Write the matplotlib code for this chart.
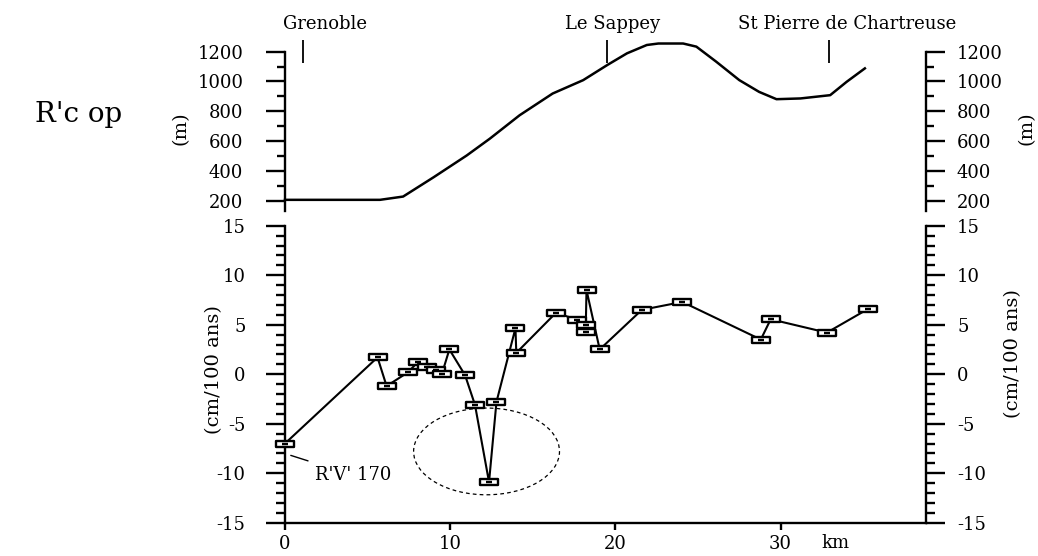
import matplotlib
matplotlib.use("Agg")
import matplotlib.pyplot as plt
from matplotlib.path import Path
from matplotlib.patches import Ellipse
from matplotlib.ticker import MultipleLocator, FixedLocator

# elevation profile along the levelling line
prof_km = [0, 5.75, 7.15, 9.0, 11.0, 12.4, 14.2, 16.2, 18.05, 19.5, 20.7, 21.9,
           22.6, 24.1, 24.9, 26.1, 27.5, 28.7, 29.75, 31.2, 33.0, 34.0, 35.1]
prof_m = [205, 205, 227, 357, 503, 616, 773, 919, 1009, 1110, 1189, 1245,
          1255, 1255, 1234, 1133, 1009, 930, 881, 886, 908, 998, 1088]

# vertical velocity of benchmarks
rate_km = [0, 5.6, 6.15, 7.45, 8.05, 8.6, 9.15, 9.5, 9.95, 10.9, 11.5, 12.35, 12.8,
           13.95, 14.0, 16.4, 17.7, 18.2, 18.2, 18.25, 19.05, 21.6, 24.05, 28.8,
           29.4, 32.8, 35.3]
rate_cm = [-7.0, 1.7, -1.2, 0.2, 1.25, 0.7, 0.45, 0.05, 2.5, -0.1, -3.1, -10.9, -2.8,
           4.65, 2.15, 6.2, 5.5, 5.0, 4.3, 8.5, 2.5, 6.5, 7.3, 3.5,
           5.55, 4.2, 6.6]

towns = ["Grenoble", "Le Sappey", "St Pierre de Chartreuse"]
town_km = [1.1, 19.5, 32.9]
town_label_km = [2.4, 19.8, 34.0]

plt.rcParams['font.family'] = ['DejaVu Serif']
plt.rcParams['axes.unicode_minus'] = False
FS = 13

fig = plt.figure(figsize=(10.38, 5.56), dpi=100)
W, H = 1038, 556
x0, x1 = 285, 926
ax_top = fig.add_axes([x0 / W, 1 - 211 / H, (x1 - x0) / W, (211 - 51.7) / H])
ax_bot = fig.add_axes([x0 / W, 1 - 522.7 / H, (x1 - x0) / W, (522.7 - 225.7) / H])
xmax = 38.8

# ---- top panel: topography
ax_top.plot(prof_km, prof_m, color='black', lw=1.8, clip_on=False,
            solid_joinstyle='round')
ax_top.set_xlim(0, xmax)
ax_top.set_ylim(130, 1200)
ax_top.vlines(town_km, 1124, 1279, color='black', lw=1.3, clip_on=False)
for name, k in zip(towns, town_label_km):
    ax_top.text(k, 1383, name, ha='center', va='center', fontsize=13,
                clip_on=False)

axr_top = ax_top.twinx()
axr_top.set_ylim(130, 1200)
for a, side in ((ax_top, 'left'), (axr_top, 'right')):
    for s in ('top', 'bottom', 'left', 'right'):
        a.spines[s].set_visible(s == side)
    a.spines[side].set_linewidth(1.7)
    a.yaxis.set_major_locator(FixedLocator([200, 400, 600, 800, 1000, 1200]))
    a.yaxis.set_minor_locator(MultipleLocator(100))
    a.tick_params(axis='y', which='major', length=14, width=1.7, labelsize=FS,
                  pad=16 if side == 'left' else 8)
    a.tick_params(axis='y', which='minor', length=6, width=1.7)
    a.set_xticks([])
    a.patch.set_visible(False)

# ---- bottom panel: vertical rates
verts = [(-1, -0.38), (1, -0.38), (1, 0.38), (-1, 0.38), (-1, -0.38), (-0.35, 0), (0.35, 0)]
codes = [Path.MOVETO, Path.LINETO, Path.LINETO, Path.LINETO, Path.CLOSEPOLY,
         Path.MOVETO, Path.LINETO]
bench = Path(verts, codes)

ax_bot.plot(rate_km, rate_cm, color='black', lw=1.5, marker=bench, markersize=13,
            markerfacecolor='white', markeredgecolor='black', markeredgewidth=1.7,
            clip_on=False, zorder=3)
ax_bot.set_xlim(0, xmax)
ax_bot.set_ylim(-15, 15)

ax_bot.add_patch(Ellipse((12.2, -7.8), 8.83, 8.76, fill=False, ls=(0, (3, 2.5)),
                         lw=0.9, color='black'))
ax_bot.annotate("R'V' 170", xy=(0.35, -8.2), xytext=(1.8, -10.2), fontsize=13,
                va='center', ha='left',
                arrowprops=dict(arrowstyle='-', color='black', lw=1.0,
                                shrinkA=6, shrinkB=0))

axr_bot = ax_bot.twinx()
axr_bot.set_ylim(-15, 15)
for a, side in ((ax_bot, 'left'), (axr_bot, 'right')):
    for s in ('top', 'left', 'right'):
        a.spines[s].set_visible(s == side)
    a.spines['bottom'].set_visible(side == 'left')
    for s in ('bottom', side):
        a.spines[s].set_linewidth(1.7)
    a.yaxis.set_major_locator(MultipleLocator(5))
    a.yaxis.set_minor_locator(MultipleLocator(1))
    a.tick_params(axis='y', which='major', length=13.5, width=1.7, labelsize=FS,
                  pad=15 if side == 'left' else 9)
    a.tick_params(axis='y', which='minor', length=6.5, width=1.7)
    a.patch.set_visible(False)

ax_bot.set_xticks([0, 10, 20, 30])
ax_bot.tick_params(axis='x', length=5, width=1.7, labelsize=FS, pad=4)
fig.text(835 / W, 1 - 543 / H, "km", ha='center', va='center', fontsize=13)

# axis titles
fig.text(181 / W, 1 - 128 / H, "(m)", rotation=90, ha='center', va='center', fontsize=14)
fig.text(1027 / W, 1 - 128 / H, "(m)", rotation=90, ha='center', va='center', fontsize=14)
fig.text(214 / W, 1 - 370 / H, "(cm/100 ans)", rotation=90, ha='center', va='center',
         fontsize=14)
fig.text(1013 / W, 1 - 354 / H, "(cm/100 ans)", rotation=90, ha='center', va='center',
         fontsize=14)

fig.text(35 / W, 1 - 115 / H, "R'c op", ha='left', va='center', fontsize=20)

fig.savefig("out.png", dpi=100)
